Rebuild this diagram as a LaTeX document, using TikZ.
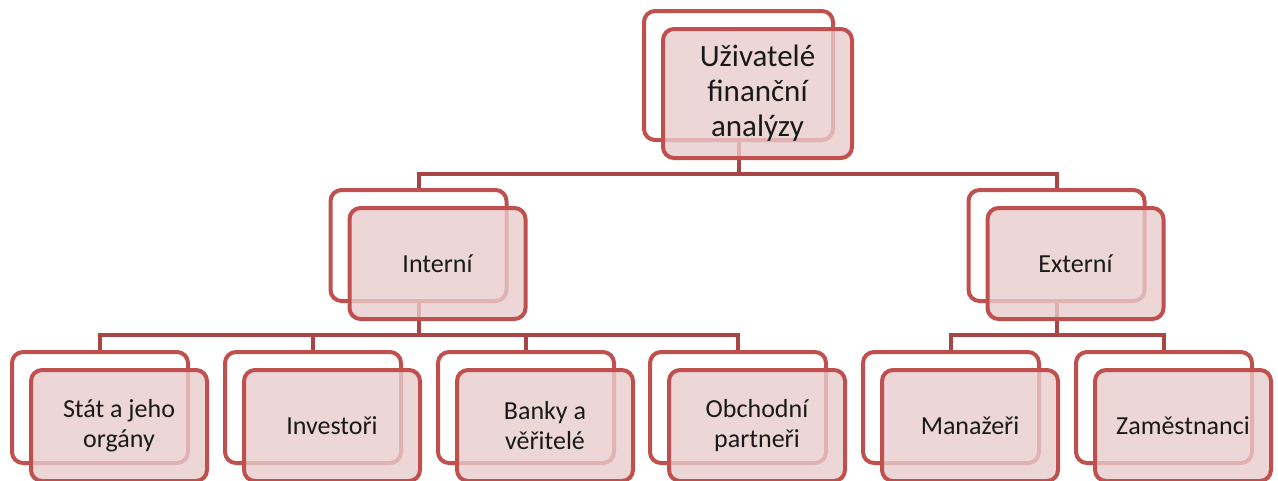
\documentclass[tikz,border=0pt]{standalone}
\usepackage{fontspec}
\setmainfont{Carlito}
\usetikzlibrary{positioning,calc}

\definecolor{boxred}{RGB}{192,80,77}
\definecolor{linkred}{RGB}{168,70,70}
\definecolor{boxfill}{RGB}{232,204,204}

\tikzset{
  backbox/.style={draw=boxred, line width=4pt, rounded corners=11pt, fill=white,
    minimum width=176pt, minimum height=111pt, inner sep=0pt},
  frontbox/.style={backbox, fill=boxfill, fill opacity=0.8, text opacity=1,
    align=center, text=black!90, font=\fontsize{26}{30}\selectfont},
  topsize/.style={minimum width=189pt, minimum height=129pt},
  link/.style={draw=linkred, line width=4pt},
}

\begin{document}
\begin{tikzpicture}[x=1pt,y=-1pt]
\useasboundingbox (0,0) rectangle (1278,480);

%Shape: back boxes
\node[backbox, topsize] (ub) at (738.5,75.5) {};
\node[backbox] (ib) at (418.5,245.5) {};
\node[backbox] (eb) at (1056.5,245.5) {};
\node[backbox] (sb) at (100,407.5) {};
\node[backbox] (vb) at (313,407.5) {};
\node[backbox] (bb) at (526,407.5) {};
\node[backbox] (ob) at (738,407.5) {};
\node[backbox] (mb) at (951,407.5) {};
\node[backbox] (zb) at (1164,407.5) {};

%Straight Lines: connectors
\coordinate (bus1) at (0,174);
\coordinate (bus2) at (0,335);
\draw[link] (ub.south) -- (ub.south |- bus1) -| (ib.north);
\draw[link] (ub.south |- bus1) -| (eb.north);
\foreach \c in {sb,vb,bb,ob}
  \draw[link] (ib.south) -- (ib.south |- bus2) -| (\c.north);
\foreach \c in {mb,zb}
  \draw[link] (eb.south) -- (eb.south |- bus2) -| (\c.north);

%Shape: front boxes
\node[frontbox, topsize, font=\fontsize{31}{35}\selectfont] (uf) at ($(ub)+(19,18)$) {Uživatelé\\finanční\\analýzy};
\node[frontbox] (if) at ($(ib)+(19,18)$) {Interní};
\node[frontbox] (ef) at ($(eb)+(19,18)$) {Externí};
\node[frontbox] (sf) at ($(sb)+(19,18)$) {Stát a jeho\\orgány};
\node[frontbox] (vf) at ($(vb)+(19,18)$) {Investoři};
\node[frontbox] (bf) at ($(bb)+(19,18)$) {Banky a\\věřitelé};
\node[frontbox] (of) at ($(ob)+(19,18)$) {Obchodní\\partneři};
\node[frontbox] (mf) at ($(mb)+(19,18)$) {Manažeři};
\node[frontbox] (zf) at ($(zb)+(19,18)$) {Zaměstnanci};

\end{tikzpicture}
\end{document}
